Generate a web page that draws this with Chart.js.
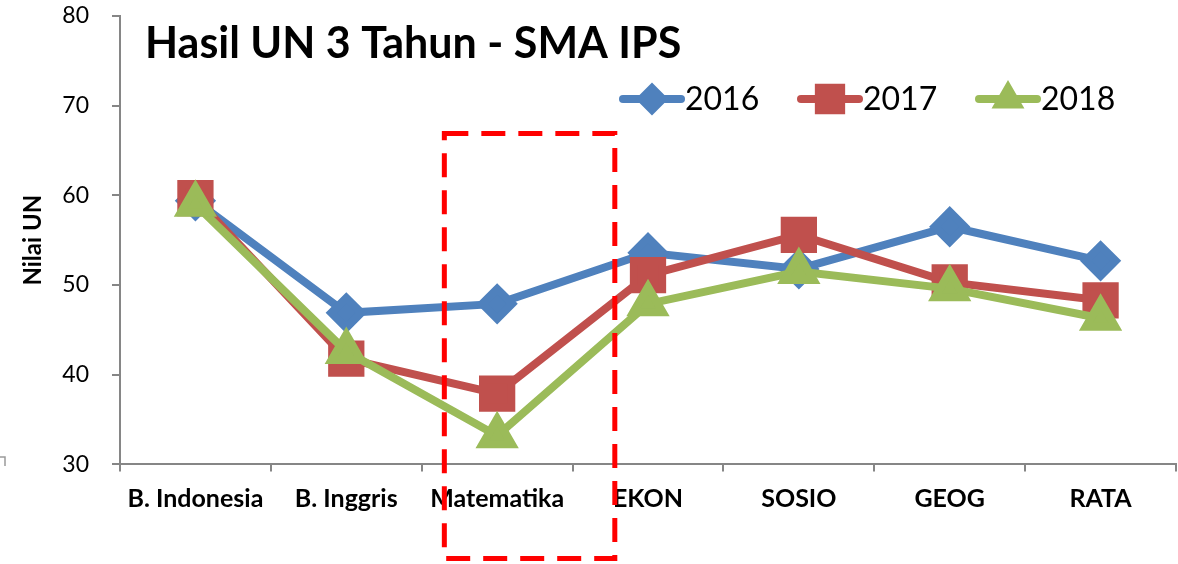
<!DOCTYPE html>
<html>
<head>
<meta charset="utf-8">
<script src="https://cdn.jsdelivr.net/npm/chart.js@4.4.1/dist/chart.umd.min.js"></script>
<style>
  html, body { margin: 0; padding: 0; background: #fff; }
  #wrap { width: 1178px; height: 564px; }
</style>
</head>
<body>
<div id="wrap"><canvas id="unChart" width="1178" height="564"></canvas></div>
<script>
// Data nilai UN per mata pelajaran
const mapel = ['B. Indonesia', 'B. Inggris', 'Matematika', 'EKON', 'SOSIO', 'GEOG', 'RATA'];
const nilai2016 = [59.4, 46.9, 47.9, 53.6, 51.8, 56.5, 52.7];
const nilai2017 = [59.7, 41.8, 37.9, 51.1, 55.6, 50.3, 48.3];
const nilai2018 = [59.0, 42.6, 33.2, 47.9, 51.5, 49.6, 46.3];
const tahun = ['2016', '2017', '2018'];
const yTicks = [30, 40, 50, 60, 70, 80];

const biru = '#4F81BD', merah = '#C0504D', hijau = '#9BBB59';
const fontUtama = 'Lato, "Open Sans", sans-serif';

// Plugin: judul, legenda dan kotak merah putus-putus
const hiasan = {
    id: 'hiasan',
    afterDraw(chart) {
        const c = chart.ctx;
        const xs = chart.scales.x, ys = chart.scales.y;
        const area = chart.chartArea;

        // kotak merah sekitar Matematika
        const lebar = xs.getPixelForValue(1) - xs.getPixelForValue(0);
        const xm = xs.getPixelForValue(2);
        const atas = ys.getPixelForValue(66.9);
        c.save();
        c.strokeStyle = '#FF0000';
        c.lineWidth = 5;
        c.setLineDash([24, 13]);
        c.strokeRect(xm - 0.35 * lebar, atas, 1.13 * lebar, area.bottom + 94 - atas);
        c.restore();

        // sudut kecil abu-abu di kiri bawah
        c.save();
        c.strokeStyle = '#9a9a9a';
        c.lineWidth = 1.5;
        c.beginPath();
        c.moveTo(0, 457);
        c.lineTo(5, 457);
        c.lineTo(5, 466);
        c.stroke();
        c.restore();

        // judul
        c.save();
        c.fillStyle = '#000';
        c.font = 'bold 43px ' + fontUtama;
        c.textBaseline = 'alphabetic';
        c.fillText('Hasil UN 3 Tahun - SMA IPS', area.left + 25, 58);
        c.restore();

        // legenda
        const posX = [623, 801, 979];
        const yLeg = 99;
        chart.data.datasets.forEach((ds, i) => {
            const x0 = posX[i];
            c.save();
            c.strokeStyle = ds.borderColor;
            c.lineWidth = 8;
            c.lineCap = 'round';
            c.beginPath();
            c.moveTo(x0, yLeg);
            c.lineTo(x0 + 58, yLeg);
            c.stroke();
            c.fillStyle = ds.pointBackgroundColor;
            c.strokeStyle = ds.borderColor;
            c.lineWidth = 2;
            Chart.helpers.drawPoint(c, {
                pointStyle: ds.pointStyle,
                radius: ds.pointRadius,
                borderWidth: 2,
                rotation: 0
            }, x0 + 29, yLeg);
            c.fillStyle = '#000';
            c.font = '32px ' + fontUtama;
            c.textBaseline = 'middle';
            c.fillText(ds.label, x0 + 62, yLeg + 1);
            c.restore();
        });
    }
};

function tanpaPadding(s) {
    s.paddingTop = 0;
    s.paddingBottom = 0;
    s.paddingLeft = 0;
    s.paddingRight = 0;
}

const ctx = document.getElementById('unChart').getContext('2d');
const unChart = new Chart(ctx, {
    type: 'line',
    data: {
        labels: mapel,
        datasets: [
            { label: tahun[0], data: nilai2016, borderColor: biru, backgroundColor: biru,
              pointBackgroundColor: biru, pointBorderColor: biru, pointStyle: 'rectRot',
              pointRadius: 15, pointHoverRadius: 15, borderWidth: 8, order: 3 },
            { label: tahun[1], data: nilai2017, borderColor: merah, backgroundColor: merah,
              pointBackgroundColor: merah, pointBorderColor: merah, pointStyle: 'rect',
              pointRadius: 20, pointHoverRadius: 20, borderWidth: 8, order: 2 },
            { label: tahun[2], data: nilai2018, borderColor: hijau, backgroundColor: hijau,
              pointBackgroundColor: hijau, pointBorderColor: hijau, pointStyle: 'triangle',
              pointRadius: 17, pointHoverRadius: 17, borderWidth: 8, order: 1 }
        ]
    },
    options: {
        responsive: false,
        animation: false,
        devicePixelRatio: 1,
        layout: { autoPadding: false, padding: { top: 16, right: 2, left: 0, bottom: 0 } },
        plugins: {
            legend: { display: false },
            tooltip: { enabled: false }
        },
        scales: {
            x: {
                offset: true,
                grid: { offset: true, drawOnChartArea: false, drawTicks: true, tickLength: 7, color: '#868686', lineWidth: 2 },
                border: { color: '#868686', width: 2 },
                ticks: { color: '#000', font: { family: fontUtama, size: 25, weight: 'bold' }, padding: 13, maxRotation: 0 },
                afterFit(s) { s.height = 99.6; tanpaPadding(s); }
            },
            y: {
                min: 30,
                max: 80,
                afterBuildTicks(s) { s.ticks = yTicks.map(v => ({ value: v })); },
                grid: { drawOnChartArea: false, drawTicks: true, tickLength: 8, color: '#868686', lineWidth: 2 },
                border: { color: '#868686', width: 2 },
                ticks: { color: '#000', font: { family: fontUtama, size: 23 }, padding: 23 },
                title: { display: true, text: 'Nilai UN', color: '#000',
                         font: { family: fontUtama, size: 24, weight: 'bold' }, padding: { top: 19, bottom: 0 } },
                afterFit(s) { s.width = 120; tanpaPadding(s); }
            }
        }
    },
    plugins: [hiasan]
});
</script>
</body>
</html>
